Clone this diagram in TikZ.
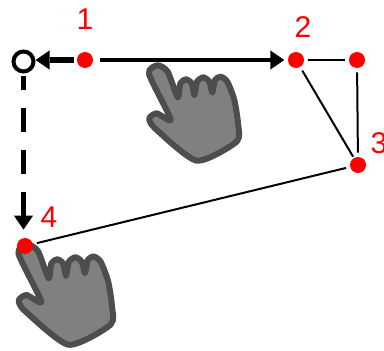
\documentclass[tikz,border=0pt]{standalone}
\usepackage{fontspec}
\setmainfont{Liberation Sans}
\usetikzlibrary{arrows.meta}
\tikzset{
  dot/.style={circle,fill=red,draw=none,inner sep=0pt,minimum size=12pt},
  opendot/.style={circle,draw=black,line width=3pt,fill=white,inner sep=0pt,minimum size=15pt},
  num/.style={text=red,font=\fontsize{22.5pt}{22.5pt}\selectfont,inner sep=0pt},
  thin link/.style={draw=black,line width=1.5pt},
  big tip/.style={-{Triangle[length=10.5pt,width=13.5pt]}},
  solid move/.style={draw=black,line width=3pt,big tip},
  dash move/.style={draw=black,line width=4pt,big tip},
  handbody/.style={fill=handfill,draw=handline,line width=4.5pt,line join=round}
}
\definecolor{handfill}{HTML}{808080}
\definecolor{handline}{HTML}{4D4D4D}
\newcommand{\handshape}{%
  \path[handbody] plot[smooth cycle,tension=.4] coordinates {
    (447,222) (473,196) (503,215) (533,292) (541,250) (558,238) (575,250) (583,285)
    (591,245) (610,232) (628,245) (637,278) (645,240) (662,230) (682,245) (703,300) (714,370)
    (710,425) (590,482) (465,385) (448,355) (470,340) (512,358)};
}
\begin{document}
\begin{tikzpicture}[x=.75pt,y=-.75pt]
\path[use as bounding box] (0,0) rectangle (384,350);
\begin{scope}[x=.25pt,y=-.25pt]\handshape\end{scope}
\begin{scope}[shift={(-138,176)},x=.2625pt,y=-.2625pt]\handshape\end{scope}
\node[opendot] (o) at (23.5,61.5) {};
\node[dot] (n1) at (85,60) {};
\node[dot] (n2) at (296,60) {};
\node[dot] (c) at (357,60) {};
\node[dot] (n3) at (358,165) {};
\node[dot] (n4) at (25,246) {};
\node[num] (l1) at (85,19) {1};
\node[num] (l2) at (303,27) {2};
\node[num] (l3) at (379,143) {3};
\node[num] (l4) at (49,217) {4};
\draw[thin link,shorten <=3pt,shorten >=3pt] (n2) -- (c);
\draw[thin link,shorten <=3pt,shorten >=3pt] (c) -- (n3);
\draw[thin link,shorten <=3pt,shorten >=1pt] (n2) -- (n3);
\draw[thin link,shorten <=3pt,shorten >=3pt] (n3) -- (n4);
\draw[solid move,shorten <=5pt,shorten >=2.5pt] (n1) -- (n2);
\draw[dash move,dash pattern=on 18pt off 80pt,shorten <=2pt] (n1) -- (n1 -| o.east);
\draw[dash move,dash pattern=on 10.5pt off 13.5pt on 18pt off 13.5pt on 18pt off 13.5pt on 30pt,shorten <=1.5pt,shorten >=6pt] (o) -- (o |- n4.north);
\end{tikzpicture}
\end{document}
